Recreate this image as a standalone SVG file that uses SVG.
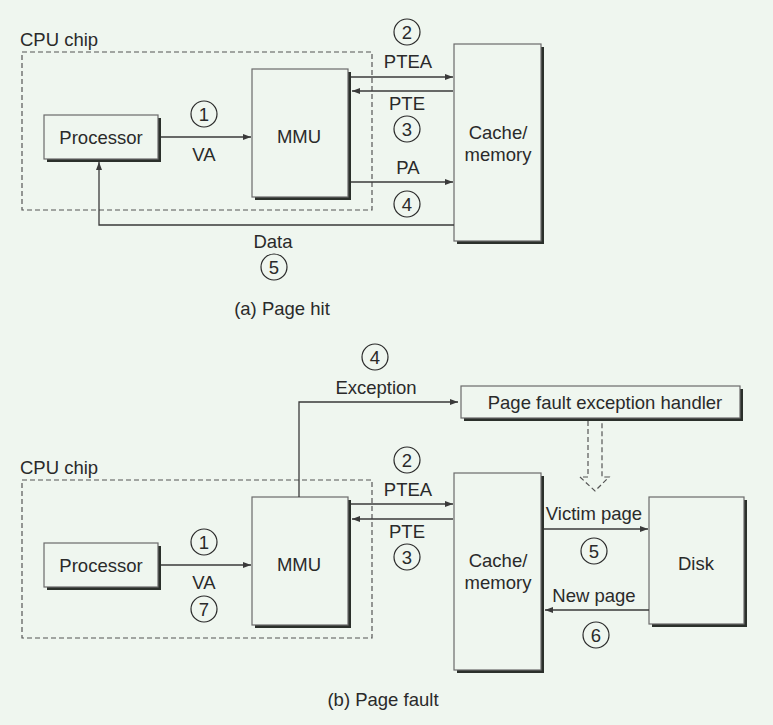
<svg xmlns="http://www.w3.org/2000/svg" width="773" height="725" viewBox="0 0 773 725">
<style>
text{font-family:"Liberation Sans",Arial,sans-serif;font-size:18.5px;fill:#2a2a2a}
.c{text-anchor:middle}
.box{fill:#eff6ef;stroke:#6a6a6a;stroke-width:1.2}
.sh{fill:#2b302b}
.dash{fill:none;stroke:#555;stroke-width:1.2;stroke-dasharray:5,3}
.ln{fill:none;stroke:#3a3a3a;stroke-width:1.3}
.num{fill:none;stroke:#2a2a2a;stroke-width:1.2}
</style>
<defs>
<marker id="ah" viewBox="0 0 8 6" refX="8" refY="3" markerWidth="8" markerHeight="6" markerUnits="userSpaceOnUse" orient="auto">
<path d="M0,0 L8,3 L0,6 Z" fill="#3a3a3a"/>
</marker>
</defs>
<rect width="773" height="725" fill="#eff6ef"/>

<!-- (a) Page hit -->
<g id="cpu-a">
<text x="20" y="46">CPU chip</text>
<rect class="dash" x="22" y="52" width="350" height="158"/>
</g>
<g id="proc-a">
<rect class="sh" x="47" y="118" width="114" height="44"/>
<rect class="box" x="44" y="115" width="114" height="44"/>
<text class="c" x="101" y="144">Processor</text>
</g>
<g id="mmu-a">
<rect class="sh" x="255" y="72" width="96" height="128"/>
<rect class="box" x="252" y="69" width="96" height="128"/>
<text class="c" x="299" y="143">MMU</text>
</g>
<g id="cache-a">
<rect class="sh" x="457" y="47" width="87" height="197"/>
<rect class="box" x="454" y="44" width="87" height="197"/>
<text class="c" x="498" y="139">Cache/</text>
<text class="c" x="498" y="161">memory</text>
</g>
<g id="conn-a">
<line class="ln" x1="161" y1="137" x2="251" y2="137" marker-end="url(#ah)"/>
<line class="ln" x1="351" y1="77" x2="453" y2="77" marker-end="url(#ah)"/>
<line class="ln" x1="453" y1="91" x2="352" y2="91" marker-end="url(#ah)"/>
<line class="ln" x1="351" y1="182" x2="453" y2="182" marker-end="url(#ah)"/>
<polyline class="ln" points="454,225 99,225 99,162" marker-end="url(#ah)"/>
</g>
<g id="labels-a">
<circle class="num" cx="204" cy="114" r="13"/><text class="c" x="204" y="120.5">1</text>
<text class="c" x="204" y="161">VA</text>
<circle class="num" cx="407" cy="32" r="13"/><text class="c" x="407" y="38.5">2</text>
<text class="c" x="408" y="68">PTEA</text>
<text class="c" x="407" y="110">PTE</text>
<circle class="num" cx="407" cy="129" r="13"/><text class="c" x="407" y="135.5">3</text>
<text class="c" x="408" y="174">PA</text>
<circle class="num" cx="407" cy="204" r="13"/><text class="c" x="407" y="210.5">4</text>
<text class="c" x="273" y="248">Data</text>
<circle class="num" cx="274" cy="267" r="13"/><text class="c" x="274" y="273.5">5</text>
<text class="c" x="282" y="315">(a) Page hit</text>
</g>

<!-- (b) Page fault -->
<g id="cpu-b">
<text x="20" y="474">CPU chip</text>
<rect class="dash" x="22" y="480" width="350" height="158"/>
</g>
<g id="proc-b">
<rect class="sh" x="47" y="546" width="114" height="44"/>
<rect class="box" x="44" y="543" width="114" height="44"/>
<text class="c" x="101" y="572">Processor</text>
</g>
<g id="mmu-b">
<rect class="sh" x="255" y="500" width="96" height="128"/>
<rect class="box" x="252" y="497" width="96" height="128"/>
<text class="c" x="299" y="571">MMU</text>
</g>
<g id="cache-b">
<rect class="sh" x="457" y="476" width="87" height="197"/>
<rect class="box" x="454" y="473" width="87" height="197"/>
<text class="c" x="498" y="567">Cache/</text>
<text class="c" x="498" y="589">memory</text>
</g>
<g id="handler">
<rect class="sh" x="464" y="389" width="279" height="32"/>
<rect class="box" x="461" y="386" width="279" height="32"/>
<text class="c" x="605" y="409">Page fault exception handler</text>
</g>
<g id="disk">
<rect class="sh" x="652" y="500" width="95" height="127"/>
<rect class="box" x="649" y="497" width="95" height="127"/>
<text class="c" x="696" y="570">Disk</text>
</g>
<g id="conn-b">
<line class="ln" x1="161" y1="565" x2="251" y2="565" marker-end="url(#ah)"/>
<polyline class="ln" points="299,497 299,402 458,402" marker-end="url(#ah)"/>
<line class="ln" x1="351" y1="504" x2="453" y2="504" marker-end="url(#ah)"/>
<line class="ln" x1="453" y1="519" x2="352" y2="519" marker-end="url(#ah)"/>
<line class="ln" x1="544" y1="529" x2="648" y2="529" marker-end="url(#ah)"/>
<line class="ln" x1="649" y1="610" x2="545" y2="610" marker-end="url(#ah)"/>
<path class="dash" d="M588,421 V477 H580 L595,491 L609,477 H602 V421" stroke-dasharray="4,3"/>
</g>
<g id="labels-b">
<circle class="num" cx="375" cy="357" r="13"/><text class="c" x="375" y="363.5">4</text>
<text class="c" x="376" y="394">Exception</text>
<circle class="num" cx="407" cy="460" r="13"/><text class="c" x="407" y="466.5">2</text>
<text class="c" x="408" y="496">PTEA</text>
<text class="c" x="407" y="538">PTE</text>
<circle class="num" cx="407" cy="557" r="13"/><text class="c" x="407" y="563.5">3</text>
<circle class="num" cx="204" cy="542" r="13"/><text class="c" x="204" y="548.5">1</text>
<text class="c" x="204" y="589">VA</text>
<circle class="num" cx="204" cy="609" r="13"/><text class="c" x="204" y="615.5">7</text>
<text class="c" x="594" y="520">Victim page</text>
<circle class="num" cx="594" cy="551" r="13"/><text class="c" x="594" y="557.5">5</text>
<text class="c" x="594" y="602">New page</text>
<circle class="num" cx="596" cy="635" r="13"/><text class="c" x="596" y="641.5">6</text>
<text class="c" x="383" y="706">(b) Page fault</text>
</g>
</svg>
